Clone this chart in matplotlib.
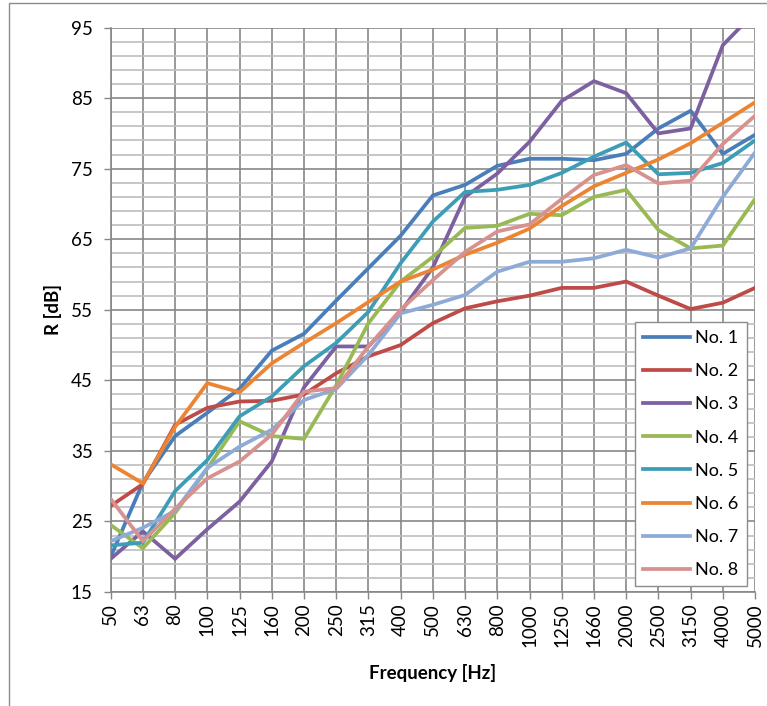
import matplotlib.pyplot as plt
from matplotlib.patches import Rectangle
import numpy as np

# Frecuencias (categorías) y valores R [dB]
freqs = ['50', '63', '80', '100', '125', '160', '200', '250', '315', '400', '500',
         '630', '800', '1000', '1250', '1660', '2000', '2500', '3150', '4000', '5000']

no1 = [20.0, 30.5, 37.1, 40.4, 43.8, 49.2, 51.6, 56.3, 60.9, 65.5, 71.2,
       72.7, 75.4, 76.4, 76.4, 76.2, 77.1, 80.7, 83.2, 77.1, 79.8]
no2 = [27.2, 30.3, 38.7, 41.1, 42.0, 42.1, 43.0, 46.0, 48.4, 50.0, 53.1,
       55.2, 56.2, 57.0, 58.1, 58.1, 59.0, 57.0, 55.1, 56.0, 58.1]
no3 = [19.7, 23.6, 19.7, 23.9, 27.8, 33.5, 44.0, 49.8, 49.8, 54.7, 61.0,
       71.0, 74.3, 78.8, 84.6, 87.4, 85.7, 80.0, 80.7, 92.5, 97.2]
no4 = [24.5, 21.2, 26.2, 32.5, 39.2, 37.1, 36.7, 44.3, 53.1, 59.0, 62.5,
       66.6, 66.9, 68.6, 68.4, 71.0, 72.0, 66.3, 63.7, 64.1, 70.7]
no5 = [21.6, 22.0, 29.3, 33.7, 39.9, 42.7, 47.0, 50.3, 54.7, 61.6, 67.5,
       71.7, 72.0, 72.7, 74.4, 76.7, 78.7, 74.2, 74.4, 75.8, 79.0]
no6 = [33.1, 30.4, 38.4, 44.6, 43.3, 47.4, 50.3, 53.1, 56.1, 59.0, 60.7,
       62.8, 64.5, 66.5, 69.7, 72.5, 74.4, 76.3, 78.6, 81.5, 84.4]
no7 = [22.2, 24.1, 26.5, 32.6, 35.6, 38.0, 42.2, 43.8, 48.6, 54.5, 55.7,
       57.1, 60.4, 61.8, 61.8, 62.3, 63.5, 62.4, 63.7, 71.0, 77.3]
no8 = [28.2, 22.2, 26.8, 31.1, 33.5, 37.3, 43.4, 43.9, 49.8, 55.0, 59.2,
       63.2, 66.1, 67.1, 70.7, 74.1, 75.5, 72.9, 73.3, 78.5, 82.5]

series = [no1, no2, no3, no4, no5, no6, no7, no8]
nombres = ['No. 1', 'No. 2', 'No. 3', 'No. 4', 'No. 5', 'No. 6', 'No. 7', 'No. 8']
colores = ['#4A7EBB', '#BE4B48', '#7D60A0', '#98B954',
           '#3D9DB6', '#EB8533', '#8EAAD6', '#D7918F']

plt.rcParams['font.family'] = ['Lato', 'DejaVu Sans']

fig = plt.figure(figsize=(7.67, 7.06), dpi=100)
ax = fig.add_axes([0.1443, 0.1615, 0.9844 - 0.1443, 0.961 - 0.1615])

# Marco exterior del gráfico
fig.patches.append(Rectangle((9 / 767, -0.05), 1.2, 1 - 3 / 706 + 0.05,
                             transform=fig.transFigure, fill=False,
                             edgecolor='#8C8C8C', linewidth=1.0))

x = np.arange(len(freqs))
for datos, nombre, color in zip(series, nombres, colores):
    ax.plot(x, datos, color=color, linewidth=2.7, label=nombre,
            solid_joinstyle='miter', zorder=3)

ax.set_xlim(0, len(freqs) - 1)
ax.set_ylim(15, 95)
ax.set_xticks(x)
ax.set_xticklabels(freqs, rotation=90)
ax.set_yticks(np.arange(15, 96, 10))
ax.set_yticks(np.arange(15, 96, 2), minor=True)

# Cuadrícula
ax.grid(True, which='major', axis='both', color='#878787', linewidth=1.2, zorder=1)
ax.grid(True, which='minor', axis='y', color='#BEBEBE', linewidth=1.2, zorder=1)
ax.set_axisbelow(True)

for lado in ['top', 'right']:
    ax.spines[lado].set_visible(False)
for lado in ['left', 'bottom']:
    ax.spines[lado].set_color('#878787')
    ax.spines[lado].set_linewidth(1.2)

ax.tick_params(axis='both', which='major', labelsize=13.5, color='#878787',
               length=5, width=1.0, labelcolor='black')
ax.tick_params(axis='y', which='minor', length=0)
ax.tick_params(axis='x', pad=3)
ax.tick_params(axis='y', pad=8)

ax.set_xlabel('Frequency [Hz]', fontsize=13.5, fontweight='bold', labelpad=12)
ax.set_ylabel('R [dB]', fontsize=13.5, fontweight='bold', labelpad=6)

leg = ax.legend(loc='lower right', bbox_to_anchor=(0.987, 0.01), fontsize=13,
                frameon=True, fancybox=False, edgecolor='#8C8C8C',
                framealpha=1, handlelength=2.6, labelspacing=0.95,
                handletextpad=0.3, borderpad=0.45, borderaxespad=0)
leg.get_frame().set_linewidth(1.0)

plt.savefig('out.png', dpi=100)
